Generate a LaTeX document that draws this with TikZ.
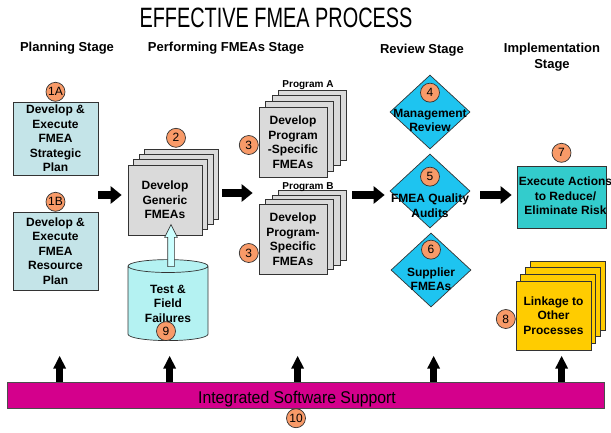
\documentclass[tikz,border=0pt]{standalone}
\usepackage{fontspec}
\usepackage{graphicx}
\setmainfont{Liberation Sans}
\usetikzlibrary{positioning,calc,shapes.geometric,shapes.arrows,shadows,arrows.meta}
\definecolor{planblue}{HTML}{C4E4E8}
\definecolor{fmeagray}{HTML}{DADADA}
\definecolor{reviewblue}{HTML}{1EC4F0}
\definecolor{actteal}{HTML}{33CCCC}
\definecolor{linkgold}{HTML}{FFCC00}
\definecolor{testcyan}{HTML}{B4F2F2}
\definecolor{feedcyan}{HTML}{CCFFFF}
\definecolor{badgeorange}{HTML}{F89A68}
\definecolor{supportmagenta}{HTML}{D4008C}
\tikzset{
  stagehead/.style={font=\bfseries\fontsize{13}{16}\selectfont, align=center},
  boxtext/.style={font=\bfseries\fontsize{12}{14.5}\selectfont, align=center},
  task/.style={boxtext, draw=black!80, line width=0.7pt, inner sep=0pt},
  stack/.style 2 args={copy shadow={shadow xshift=3*#1, shadow yshift=3*#2},
    copy shadow={shadow xshift=2*#1, shadow yshift=2*#2},
    copy shadow={shadow xshift=#1, shadow yshift=#2}},
  badge/.style={circle, draw=black!80, line width=0.7pt, fill=badgeorange,
    font=\fontsize{12}{12}\selectfont, minimum size=19pt, inner sep=0pt},
  review/.style={diamond, draw=black!80, line width=0.7pt, fill=reviewblue,
    minimum width=80pt, minimum height=74pt, inner sep=0pt},
  stagearrow/.style={line width=8pt, -{Triangle[length=11pt,width=17pt]}},
  uparrow/.style={line width=7pt, -{Triangle[length=13pt,width=12pt]}}}
\begin{document}
\begin{tikzpicture}[x=1pt, y=-1pt]
        \useasboundingbox (0,0) rectangle (611,432);
        \node[font=\fontsize{28}{28}\selectfont] (title) at (276,18) {\scalebox{0.71}[1]{EFFECTIVE FMEA PROCESS}};

        \node[stagehead] (hplan) at (67,48) {Planning Stage};
        \node[stagehead] (hperf) at (226,48) {Performing FMEAs Stage};
        \node[stagehead] (hrev) at (422,50) {Review Stage};
        \node[stagehead] (himpl) at (552,57) {Implementation\\Stage};

        \node[task, fill=planblue, minimum width=85pt, minimum height=73pt] (plan1a) at (55.5,138.5) {Develop \&\\Execute\\FMEA\\Strategic\\Plan};
        \node[task, fill=planblue, minimum width=85pt, minimum height=78pt] (plan1b) at (55.5,251) {Develop \&\\Execute\\FMEA\\Resource\\Plan};

        \node[task, fill=fmeagray, minimum width=74pt, minimum height=70pt, stack={5.5pt}{5.3pt}] (generic) at (165,200) {Develop\\Generic\\FMEAs};
        \node[cylinder, shape border rotate=90, aspect=0.28, draw=black!80, line width=0.7pt, fill=testcyan, boxtext,
              minimum width=80pt, minimum height=81pt, inner sep=0pt] (tests) at (168,303.5) {Test \&\\Field\\Failures};
        \node[single arrow, rotate=90, draw=black!80, line width=0.7pt, fill=feedcyan, minimum height=42pt, minimum width=12pt,
              inner xsep=0pt, inner ysep=3pt, single arrow head extend=3pt, single arrow tip angle=53] (feed) at (171,249) {};

        \node[task, fill=fmeagray, minimum width=68pt, minimum height=70pt, stack={6.5pt}{5.7pt}] (proga) at (293,142) {Develop\\Program\\-Specific\\FMEAs};
        \node[task, fill=fmeagray, minimum width=68pt, minimum height=70pt, stack={6.5pt}{4.5pt}] (progb) at (293,239) {Develop\\Program-\\Specific\\FMEAs};
        \node[font=\bfseries\fontsize{10}{10}\selectfont] (laba) at (308,85) {Program A};
        \node[font=\bfseries\fontsize{10}{10}\selectfont] (labb) at (308,187) {Program B};

        \node[review] (mgmt) at (430,112) {};
        \node[review] (audit) at (430,191) {};
        \node[review] (supp) at (431,270) {};
        \node[boxtext] (mgmttext) at (430,120.5) {Management\\Review};
        \node[boxtext] (audittext) at (430,205.5) {FMEA Quality\\Audits};
        \node[boxtext] (supptext) at (431,279) {Supplier\\FMEAs};

        \node[task, fill=actteal, minimum width=89pt, minimum height=62pt] (act) at (561.5,197) {};
        \node[boxtext] (acttext) at (565.5,196) {Execute Actions\\to Reduce/\\Eliminate Risk};
        \node[task, fill=linkgold, minimum width=75pt, minimum height=69pt, stack={4.7pt}{6.7pt}] (link) at (553.5,315.5) {Linkage to\\Other\\Processes};

        \node[draw=black!70, line width=0.7pt, fill=supportmagenta, minimum width=597pt, minimum height=26pt, inner sep=0pt] (bar) at (305.5,395) {};
        \node[font=\fontsize{17}{17}\selectfont] (bartext) at (297,399) {\scalebox{0.93}[1]{Integrated Software Support}};

        \node[badge, above=0pt of plan1a] (b1a) {1A};
        \node[badge, above=0pt of plan1b] (b1b) {1B};
        \node[badge, above=17pt of generic, xshift=11pt] (b2) {2};
        \node[badge, left=0pt of proga, yshift=-3pt] (b3a) {3};
        \node[badge, left=0pt of progb, yshift=-14pt] (b3b) {3};
        \node[badge, above=9.5pt of mgmt.center] (b4) {4};
        \node[badge, above=4.5pt of audit.center] (b5) {5};
        \node[badge, above=10.5pt of supp.center] (b6) {6};
        \node[badge, above=3pt of act] (b7) {7};
        \node[badge, left=0pt of link, yshift=-3.5pt] (b8) {8};
        \node[badge, above=0pt of tests.south, xshift=-2pt] (b9) {9};
        \node[badge, below=0pt of bar, xshift=-9.5pt] (b10) {10};

        \draw[stagearrow] ($(generic.west -| plan1a.east)+(0pt,5pt)$) -- ($(generic.west)+(-6pt,5pt)$);
        \draw[stagearrow] ($(generic.east)+(20pt,7pt)$) -- ($(generic.east -| progb.west)+(-6pt,7pt)$);
        \draw[stagearrow] ($(audit.west -| proga.east)+(25pt,-4pt)$) -- ($(audit.west)+(-5pt,-4pt)$);
        \draw[stagearrow] ($(act.west -| audit.east)+(10pt,2pt)$) -- ($(act.west)+(-5pt,2pt)$);

        \foreach \x in {53pt,163pt,291pt,427pt,555pt} {
          \draw[uparrow] ([xshift=\x]bar.north west) -- ++(0pt,26pt);
        }
      \end{tikzpicture}
\end{document}
